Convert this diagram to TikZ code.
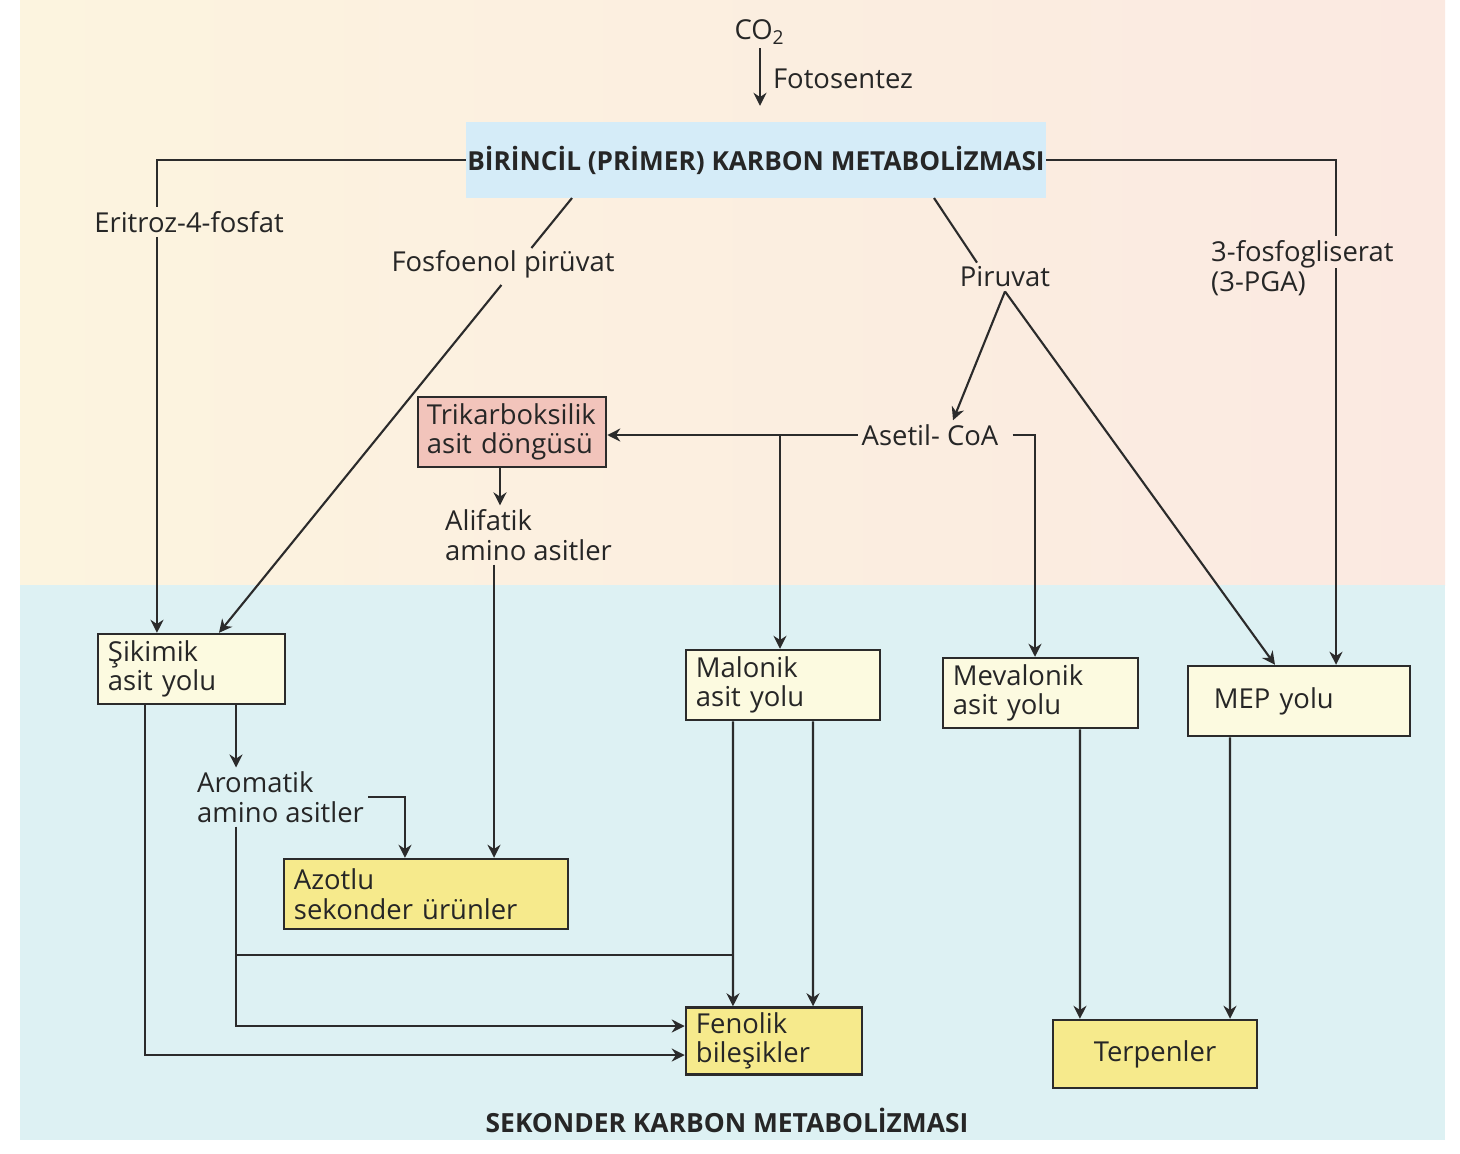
\documentclass[tikz,border=0pt]{standalone}
\usepackage{fontspec}
\setmainfont{Open Sans}
\usetikzlibrary{arrows.meta,calc}

\definecolor{linec}{HTML}{2B2B2B}
\definecolor{txtc}{HTML}{262626}
\definecolor{creamc}{HTML}{FCFAE0}
\definecolor{yellowc}{HTML}{F6EA8C}
\definecolor{pinkc}{HTML}{F2C4BB}
\definecolor{titlec}{HTML}{D5ECF8}
\definecolor{bgL}{HTML}{FCF4DF}
\definecolor{bgR}{HTML}{FBE9E1}
\definecolor{bgB}{HTML}{DDF1F3}

\begin{document}
\begin{tikzpicture}[x=0.01cm,y=-0.01cm,
    >={Stealth[length=1.3mm,width=1.3mm]},
    every node/.style={font=\fontsize{7.8}{8.4}\selectfont, text=txtc},
    lbl/.style={inner sep=1pt, align=left},
    bigtitle/.style={inner sep=0pt, font=\fontsize{7.45}{8.4}\selectfont\bfseries},
    yolbox/.style={draw=linec, line width=0.7pt, fill=creamc, minimum height=0.7cm, inner xsep=0.1cm, inner ysep=0.05cm, align=left},
    conn/.style={draw=linec, line width=0.6pt}]
    \useasboundingbox (0,0) rectangle (1460,1153);
    \fill[left color=bgL, right color=bgR] (20,0) rectangle (1445,585);
    \fill[bgB] (20,585) rectangle (1445,1140);

    \node[lbl] (co2) at (760,32) {CO\textsubscript{2}};
    \node[lbl] (foto) at (843,79) {Fotosentez};
    \node[bigtitle, fill=titlec, minimum width=5.79cm, minimum height=0.75cm] (birincil) at (756,160) {BİRİNCİL (PRİMER) KARBON METABOLİZMASI};

    \node[lbl] (eritroz) at (189,222) {Eritroz-4-fosfat};
    \node[lbl] (fosfo) at (503,264) {Fosfoenol pirüvat};
    \node[lbl] (piruvat) at (1005,277) {Piruvat};
    \node[lbl, anchor=west] (pga) at (1207,268) {3-fosfogliserat\\(3-PGA)};

    \node[yolbox, fill=pinkc, text width=1.7cm, inner xsep=0.09cm] (trikarb) at (512,432) {Trikarboksilik\\asit döngüsü};
    \node[lbl] (asetil) at (930,435) {Asetil- CoA};
    \node[lbl, anchor=west] (alifatik) at (441,535) {Alifatik\\amino asitler};

    \node[yolbox, text width=1.67cm] (sikimik) at (191.5,669) {Şikimik\\asit yolu};
    \node[yolbox, text width=1.74cm] (malonik) at (783,685) {Malonik\\asit yolu};
    \node[yolbox, text width=1.75cm] (mevalonik) at (1040.5,693) {Mevalonik\\asit yolu};
    \node[yolbox, text width=2.02cm] (mep) at (1299,701) {\hspace*{0.16cm}MEP yolu};

    \node[lbl, anchor=west] (aromatik) at (193,797) {Aromatik\\amino asitler};
    \node[yolbox, fill=yellowc, text width=2.64cm] (azotlu) at (426,894) {Azotlu\\sekonder ürünler};
    \node[yolbox, fill=yellowc, text width=1.56cm, minimum height=0.67cm] (fenolik) at (774,1041) {Fenolik\\bileşikler};
    \node[yolbox, fill=yellowc, text width=1.84cm, align=center, minimum height=0.68cm] (terpen) at (1155,1054) {Terpenler};

    \node[bigtitle, font=\fontsize{7.5}{8.4}\selectfont\bfseries] (sekonder) at (727,1120) {SEKONDER KARBON METABOLİZMASI};

    \coordinate (sikA) at ([xshift=-0.345cm]sikimik.north);
    \coordinate (sikB) at ([xshift=0.275cm]sikimik.north);
    \coordinate (sikC) at ([xshift=0.445cm]sikimik.south);
    \coordinate (sikD) at ([xshift=-0.465cm]sikimik.south);
    \coordinate (fpA) at (572,198);
    \coordinate (pvA) at (934,198);
    \coordinate (mepA) at ([xshift=-0.24cm]mep.north);
    \coordinate (mepB) at ([xshift=0.37cm]mep.north);
    \coordinate (malA) at ([xshift=-0.03cm]malonik.north);
    \coordinate (mevA) at ([xshift=-0.055cm]mevalonik.north);
    \coordinate (azA) at ([xshift=-0.21cm]azotlu.north);
    \coordinate (azB) at ([xshift=0.68cm]azotlu.north);
    \coordinate (mrg) at (733,955);

    \draw[conn,->] (co2.south) -- (co2.south |- birincil.north) [shorten >=0.16cm];
    \draw[conn] (birincil.west) -| (sikA |- eritroz.north);
    \draw[conn,->] (sikA |- eritroz.south) -- (sikA);
    \draw[conn] (fpA) -- ($(fpA)!0.115!(sikB)$);
    \draw[conn,->] ($(fpA)!0.2!(sikB)$) -- (sikB);
    \draw[conn] (pvA) -- ([xshift=-0.28cm]piruvat.north);
    \draw[conn,->] (piruvat.south) -- ([xshift=0.23cm]asetil.north);
    \draw[conn,->] (piruvat.south) -- (mepA);
    \draw[conn] (birincil.east) -| (mepB |- pga.north);
    \draw[conn,->] (mepB |- pga.center) -- (mepB);

    \draw[conn,->] (asetil.west) -- (asetil.west -| trikarb.east);
    \draw[conn,->] (malA |- asetil.west) -- (malA);
    \draw[conn,->] ([xshift=0.1cm]asetil.east) -| (mevA);
    \draw[conn,->] ([xshift=-0.12cm]trikarb.south) -- ([xshift=-0.12cm]trikarb.south |- alifatik.north);
    \draw[conn,->] (azB |- alifatik.south) -- (azB);

    \draw[conn,->] (sikC) -- (sikC |- aromatik.north);
    \draw[conn,->] (aromatik.east) -| (azA);
    \draw[conn,->] (sikC |- aromatik.south) |- ([yshift=0.15cm]fenolik.west);
    \draw[conn] (sikC |- mrg) -- (mrg);
    \draw[conn,->] (sikD) |- ([yshift=-0.14cm]fenolik.west);
    \draw[conn,->] ([xshift=-0.5cm]malonik.south) -- ([xshift=-0.41cm]fenolik.north);
    \draw[conn,->] ([xshift=0.3cm]malonik.south) -- ([xshift=0.39cm]fenolik.north);
    \draw[conn,->] ([xshift=0.395cm]mevalonik.south) -- ([xshift=-0.75cm]terpen.north);
    \draw[conn,->] ([xshift=-0.69cm]mep.south) -- ([xshift=0.75cm]terpen.north);
\end{tikzpicture}
\end{document}
